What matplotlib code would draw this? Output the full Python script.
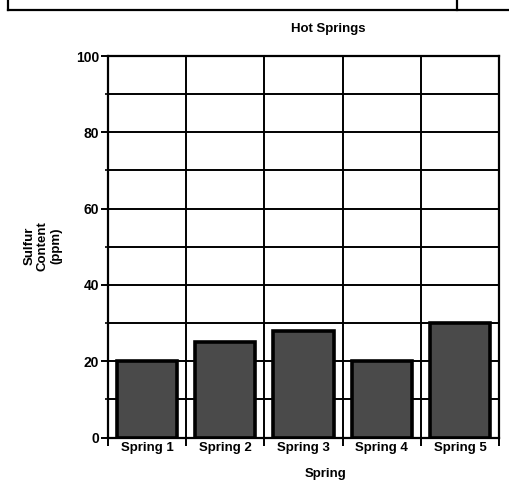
import matplotlib
matplotlib.use("Agg")
import matplotlib.pyplot as plt
from matplotlib.lines import Line2D
from matplotlib.ticker import MultipleLocator, FixedLocator

categories = ["Spring 1", "Spring 2", "Spring 3", "Spring 4", "Spring 5"]
sulfur_ppm = [20, 25, 28, 20, 30]
y_ticks = [0, 20, 40, 60, 80, 100]

plt.rcParams['font.family'] = ['Liberation Sans', 'DejaVu Sans']

W, H = 509, 494
fig = plt.figure(figsize=(W / 100, H / 100), dpi=100)
fig.patch.set_facecolor("white")

ax = fig.add_axes([108 / W, 1 - 437.5 / H, (499 - 108) / W, (437.5 - 56) / H])
x = list(range(len(categories)))
ax.bar(x, sulfur_ppm, width=0.77, color="#4a4a4a", edgecolor="black",
       linewidth=2.6, zorder=3)

ax.set_xlim(-0.5, len(categories) - 0.5)
ax.set_ylim(0, 100)

# horizontal grid every 10, vertical grid at category boundaries
ax.yaxis.set_major_locator(FixedLocator(y_ticks))
ax.yaxis.set_minor_locator(MultipleLocator(10))
ax.xaxis.set_major_locator(FixedLocator(x))
ax.xaxis.set_minor_locator(FixedLocator([i - 0.5 for i in range(len(categories) + 1)]))
ax.grid(True, which="both", axis="y", color="black", linewidth=1.4, zorder=1)
ax.grid(True, which="minor", axis="x", color="black", linewidth=1.4, zorder=1)
ax.set_axisbelow(True)

ax.set_xticklabels(categories, fontsize=9.5, fontweight="bold")
ax.set_yticks(y_ticks)
ax.set_yticklabels([str(v) for v in y_ticks], fontsize=10, fontweight="bold")
ax.tick_params(axis="x", which="major", length=0, pad=3)
ax.tick_params(axis="x", which="minor", length=6, width=1.4, direction="out")
ax.tick_params(axis="y", which="major", length=5, width=1.4, pad=1.5)
ax.tick_params(axis="y", which="minor", length=2, width=1.2)

for s in ax.spines.values():
    s.set_linewidth(1.6)
    s.set_color("black")

# titles as figure text (offset as in the scan)
fig.text(328 / W, 1 - 29 / H, "Hot Springs", ha="center", va="center",
         fontsize=9.5, fontweight="bold")
fig.text(326 / W, 1 - 474 / H, "Spring", ha="center", va="center",
         fontsize=9.5, fontweight="bold")
fig.text(43 / W, 1 - 246 / H, "Sulfur\nContent\n(ppm)", ha="center", va="center",
         rotation=90, fontsize=9.5, fontweight="bold", linespacing=1.15)

# table border fragments at the top of the scan
lw = 1.6
fig.add_artist(Line2D([8 / W, 1.0], [1 - 10 / H, 1 - 10 / H], color="black", linewidth=lw,
                      transform=fig.transFigure))
fig.add_artist(Line2D([8 / W, 8 / W], [1 - 10 / H, 1.0], color="black", linewidth=lw,
                      transform=fig.transFigure))
fig.add_artist(Line2D([457 / W, 457 / W], [1 - 10 / H, 1.0], color="black", linewidth=lw,
                      transform=fig.transFigure))

fig.savefig("out.png", dpi=100)
